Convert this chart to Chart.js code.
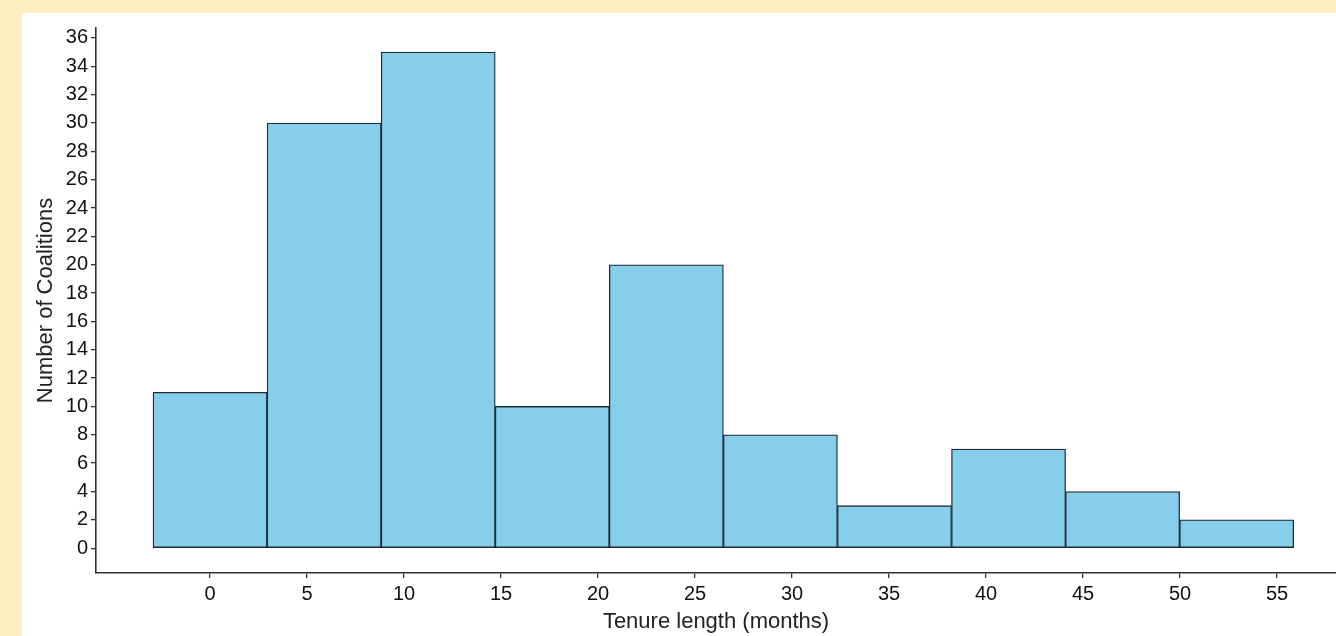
<!DOCTYPE html>
<html>
<head>
<meta charset="utf-8">
<script src="https://cdn.jsdelivr.net/npm/chart.js@4"></script>
<style>
  html, body { margin: 0; padding: 0; background: #ffecbf; }
  #box { position: absolute; left: 22px; top: 13px; width: 1314px; height: 623px; background: #ffffff; }
  #chart { display: block; }
</style>
</head>
<body>
<div id="box"><canvas id="chart" width="1314" height="623"></canvas></div>
<script>
// histogram bins (centre of each bin, months) and counts
const binCenters = [0, 5.88, 11.76, 17.64, 23.52, 29.4, 35.28, 41.16, 47.04, 52.92]
const counts = [11, 30, 35, 10, 20, 8, 3, 7, 4, 2]
const xTicks = [0, 5, 10, 15, 20, 25, 30, 35, 40, 45, 50, 55]
const yTicks = [0, 2, 4, 6, 8, 10, 12, 14, 16, 18, 20, 22, 24, 26, 28, 30, 32, 34, 36]

const axisColor = "#333333"
const font = "'Liberation Sans', Arial, sans-serif"
const xMin = -5.88, xMax = 58.04

const points = binCenters.map((c, i) => ({x: c, y: counts[i]}))

const chart = new Chart("chart", {
    type: "bar",
    data: {
        datasets: [{
            data: points,
            xAxisID: "bins",
            backgroundColor: "#87ceeb",
            borderColor: "#1d2b33",
            borderWidth: 1.3,
            borderSkipped: false,
            barPercentage: 1,
            categoryPercentage: 1
        }]
    },
    options: {
        responsive: false,
        animation: false,
        layout: {padding: {top: 12, right: 0, left: 0, bottom: 0}},
        plugins: {
            legend: {display: false},
            tooltip: {enabled: false}
        },
        scales: {
            // hidden axis that carries the bars, so bar width = bin width
            bins: {
                type: "linear",
                position: "bottom",
                display: false,
                offset: false,
                min: xMin,
                max: xMax,
                afterBuildTicks: (scale) => { scale.ticks = binCenters.map(v => ({value: v})) }
            },
            x: {
                type: "linear",
                position: "bottom",
                offset: false,
                min: xMin,
                max: xMax,
                afterBuildTicks: (scale) => { scale.ticks = xTicks.map(v => ({value: v})) },
                afterFit: (scale) => { scale.height = 63 },
                grid: {display: true, offset: false, drawOnChartArea: false, drawTicks: true, tickLength: 5, color: axisColor, lineWidth: 1.3},
                border: {display: true, color: axisColor, width: 1.6},
                ticks: {color: "#111111", font: {family: font, size: 20}, padding: 4, maxRotation: 0},
                title: {display: true, text: "Tenure length (months)", color: "#222222",
                        font: {family: font, size: 22}, padding: {top: 0, bottom: 1}}
            },
            y: {
                type: "linear",
                min: -1.75,
                max: 36.7,
                afterBuildTicks: (scale) => { scale.ticks = yTicks.map(v => ({value: v})) },
                afterFit: (scale) => { scale.width = 74 },
                grid: {display: true, drawOnChartArea: false, drawTicks: true, tickLength: 5, color: axisColor, lineWidth: 1.3},
                border: {display: true, color: axisColor, width: 1.6},
                ticks: {color: "#111111", font: {family: font, size: 20}, padding: 3},
                title: {display: true, text: "Number of Coalitions", color: "#222222",
                        font: {family: font, size: 22}, padding: {top: 11, bottom: 0}}
            }
        }
    }
})
</script>
</body>
</html>
